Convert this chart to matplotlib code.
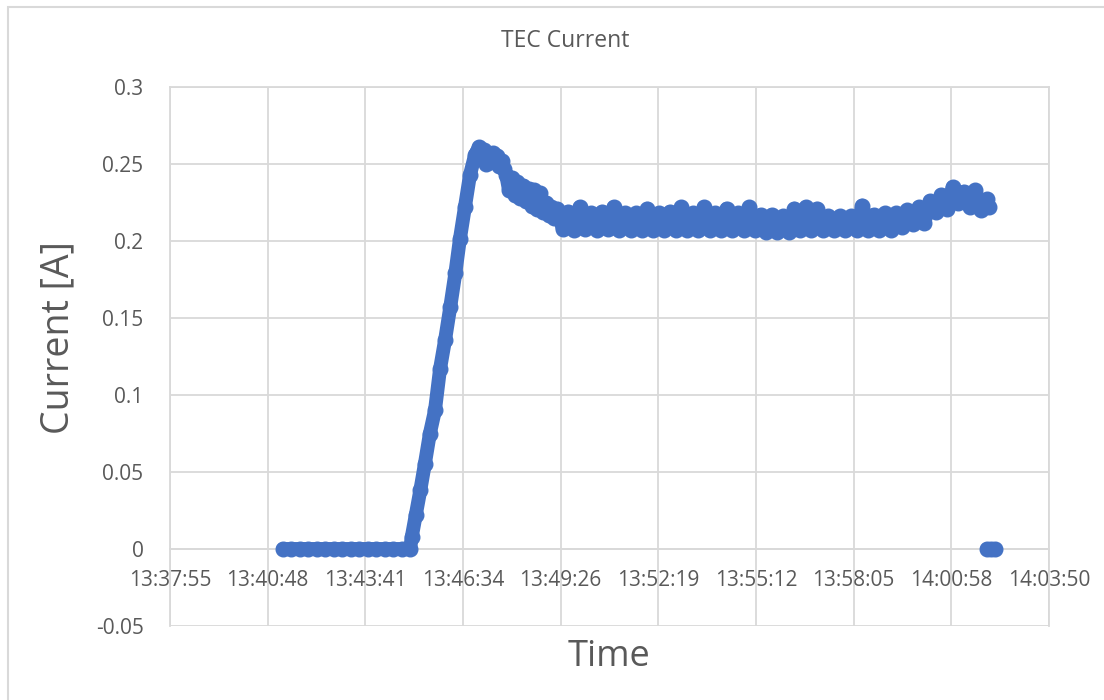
import matplotlib
matplotlib.use("Agg")
import matplotlib.pyplot as plt
from matplotlib.ticker import FixedLocator, FuncFormatter
from matplotlib.patches import Rectangle

plt.rcParams['font.family'] = ['Open Sans', 'DejaVu Sans']

# TEC current log (clock time, amps)
times = [
    # idle, TEC off
    "13:41:15", "13:41:30", "13:41:45", "13:42:00", "13:42:15", "13:42:30",
    "13:42:45", "13:43:00", "13:43:15", "13:43:30", "13:43:45", "13:44:00",
    "13:44:15", "13:44:30", "13:44:45", "13:45:00",
    # ramp up
    "13:45:03", "13:45:10", "13:45:18", "13:45:26", "13:45:35", "13:45:44",
    "13:45:53", "13:46:02", "13:46:11", "13:46:20", "13:46:28", "13:46:37",
    "13:46:46", "13:46:55",
    # overshoot
    "13:46:58", "13:47:02", "13:47:06", "13:47:10", "13:47:14", "13:47:18",
    "13:47:22", "13:47:26", "13:47:30", "13:47:34", "13:47:38", "13:47:42",
    "13:47:46", "13:47:50", "13:47:55", "13:48:00", "13:48:05", "13:48:10",
    "13:48:15", "13:48:20", "13:48:25", "13:48:30", "13:48:35", "13:48:40",
    "13:48:45", "13:48:50", "13:48:55", "13:49:00", "13:49:05", "13:49:10",
    "13:49:15", "13:49:20",
    # steady state
    "13:49:30", "13:49:40", "13:49:50", "13:50:00", "13:50:10", "13:50:20",
    "13:50:30", "13:50:40", "13:50:50", "13:51:00", "13:51:10", "13:51:20",
    "13:51:30", "13:51:40", "13:51:50", "13:52:00", "13:52:10", "13:52:20",
    "13:52:30", "13:52:40", "13:52:50", "13:53:00", "13:53:10", "13:53:20",
    "13:53:30", "13:53:40", "13:53:50", "13:54:00", "13:54:10", "13:54:20",
    "13:54:30", "13:54:40", "13:54:50", "13:55:00", "13:55:10", "13:55:20",
    "13:55:30", "13:55:40", "13:55:50", "13:56:00", "13:56:10", "13:56:20",
    "13:56:30", "13:56:40", "13:56:50", "13:57:00", "13:57:10", "13:57:20",
    "13:57:30", "13:57:40", "13:57:50", "13:58:00", "13:58:10", "13:58:20",
    "13:58:30", "13:58:40", "13:58:50", "13:59:00", "13:59:10", "13:59:20",
    "13:59:30", "13:59:40", "13:59:50", "14:00:00", "14:00:10", "14:00:20",
    "14:00:30", "14:00:40", "14:00:50", "14:01:00", "14:01:10", "14:01:20",
    "14:01:30", "14:01:40", "14:01:50", "14:02:00", "14:02:05",
]
current = [
    0, 0, 0, 0, 0, 0,
    0, 0, 0, 0, 0, 0,
    0, 0, 0, 0,
    0.008, 0.022, 0.038, 0.055, 0.075, 0.090,
    0.117, 0.136, 0.157, 0.179, 0.201, 0.222,
    0.243, 0.256,
    0.258, 0.261, 0.255, 0.259, 0.250, 0.256,
    0.251, 0.257, 0.252, 0.255, 0.249, 0.252,
    0.247, 0.243, 0.233, 0.241, 0.230, 0.238,
    0.228, 0.236, 0.226, 0.234, 0.223, 0.233,
    0.221, 0.231, 0.219, 0.225, 0.217, 0.222,
    0.215, 0.221,
    0.208, 0.219, 0.207, 0.222, 0.208, 0.218,
    0.207, 0.219, 0.208, 0.222, 0.207, 0.218,
    0.207, 0.218, 0.207, 0.221, 0.207, 0.218,
    0.207, 0.219, 0.207, 0.222, 0.207, 0.218,
    0.207, 0.222, 0.207, 0.218, 0.207, 0.221,
    0.207, 0.218, 0.207, 0.222, 0.207, 0.217,
    0.206, 0.217, 0.206, 0.216, 0.206, 0.221,
    0.207, 0.222, 0.207, 0.221, 0.207, 0.216,
    0.207, 0.216, 0.207, 0.216, 0.207, 0.223,
    0.207, 0.217, 0.207, 0.218, 0.207, 0.218,
    0.209, 0.220, 0.211, 0.222, 0.212, 0.226,
    0.219, 0.230, 0.221, 0.235, 0.225, 0.232,
    0.222, 0.233, 0.220, 0.227, 0.222,
]
# supply dropped out at the end
end_times = ["14:02:01", "14:02:08", "14:02:14"]
end_current = [0, 0, 0]

# x axis ticks (Excel: 0.568 d to 0.586 d, step 0.002 d)
tick_days = [0.568, 0.570, 0.572, 0.574, 0.576, 0.578, 0.580, 0.582, 0.584, 0.586]
y_ticks = [-0.05, 0, 0.05, 0.1, 0.15, 0.2, 0.25, 0.3]


def to_sec(s):
    h, m, sec = s.split(":")
    return int(h)*3600 + int(m)*60 + int(sec)


def fmt_time(v, pos=None):
    v = int(round(v))
    return "%d:%02d:%02d" % (v//3600, (v % 3600)//60, v % 60)


blue = '#4472C4'
grid = '#d9d9d9'
txt = '#595959'

x = [to_sec(t) for t in times]
xe = [to_sec(t) for t in end_times]
xticks = [d*86400 for d in tick_days]

fig = plt.figure(figsize=(11.04, 7.0), dpi=100)
ax = fig.add_axes([170/1104, 74/700, 879/1104, 539/700])

ax.plot(x, current, color=blue, lw=10, marker='o', ms=10.5, mec=blue,
        solid_joinstyle='round', solid_capstyle='round', zorder=3)
ax.plot(xe, end_current, color=blue, lw=10, marker='o', ms=10.5, mec=blue,
        solid_capstyle='round', zorder=3)

ax.set_xlim(xticks[0], xticks[-1])
ax.set_ylim(-0.05, 0.3)
ax.xaxis.set_major_locator(FixedLocator(xticks))
ax.xaxis.set_major_formatter(FuncFormatter(fmt_time))
ax.yaxis.set_major_locator(FixedLocator(y_ticks))
ax.yaxis.set_major_formatter(FuncFormatter(lambda v, p: "%g" % round(v, 2)))

ax.grid(True, color=grid, lw=1.3, zorder=0)
ax.set_axisbelow(True)
for s in ax.spines.values():
    s.set_color(grid)
    s.set_linewidth(1.3)
ax.spines['bottom'].set_position(('data', 0))

ax.tick_params(axis='x', length=0, pad=15, labelsize=15, labelcolor=txt)
ax.tick_params(axis='y', length=0, pad=19, labelsize=15, labelcolor=txt)

ax.set_ylabel('Current [A]', fontsize=27, color=txt)
ax.yaxis.set_label_coords(-0.105, 0.535)
ax.set_xlabel('Time', fontsize=26, color=txt)
ax.xaxis.label.set_va('center')
ax.xaxis.set_label_coords(0.5, -0.0575)

fig.text(565/1104, 1 - 41/700, 'TEC Current', ha='center', va='center',
         fontsize=16.5, color=txt)

# chart area border (only left/top edge visible in the crop)
fig.patches.append(Rectangle((7.5/1104, -0.1), 1.2, 1 - 7.5/700 + 0.1,
                             transform=fig.transFigure, fill=False,
                             edgecolor=grid, lw=1.5))

fig.savefig('out.png', dpi=100)
